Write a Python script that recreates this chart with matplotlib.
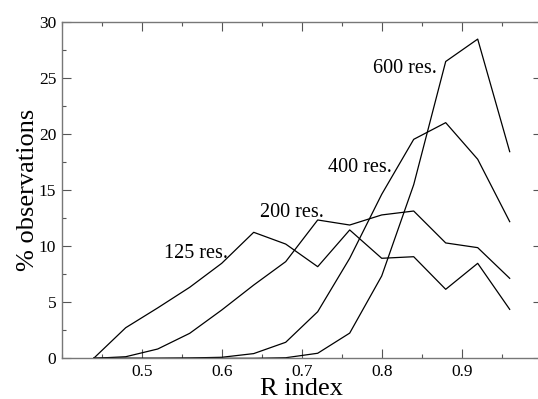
import matplotlib
matplotlib.use("Agg")
import matplotlib.pyplot as plt
from matplotlib.ticker import MultipleLocator

r_index = [0.44, 0.48, 0.52, 0.56, 0.60, 0.64, 0.68, 0.72, 0.76, 0.80, 0.84, 0.88, 0.92, 0.96]
res125 = [0.0, 2.73, 4.5, 6.34, 8.48, 11.25, 10.2, 8.18, 11.46, 8.93, 9.07, 6.16, 8.48, 4.37]
res200 = [0.0, 0.14, 0.83, 2.23, 4.31, 6.54, 8.63, 12.35, 11.9, 12.8, 13.15, 10.3, 9.88, 7.14]
res400 = [0.0, 0.0, 0.0, 0.03, 0.09, 0.42, 1.43, 4.16, 8.93, 14.64, 19.55, 21.04, 17.77, 12.2]
res600 = [0.0, 0.0, 0.0, 0.0, 0.0, 0.0, 0.05, 0.45, 2.25, 7.35, 15.5, 26.5, 28.5, 18.45]

series = [res125, res200, res400, res600]
labels = ["125 res.", "200 res.", "400 res.", "600 res."]
label_pos = [(0.608, 8.93, "right"), (0.648, 12.64, "left"), (0.8125, 16.66, "right"), (0.869, 25.45, "right")]

plt.rcParams['font.family'] = ['Liberation Serif', 'DejaVu Serif']
plt.rcParams['mathtext.fontset'] = 'stix'

fig = plt.figure(figsize=(5.38, 3.99), dpi=100)
W, H = 538.0, 399.0
left, right, top, bottom = 61.7, 541.7, 22.3, 358.3
ax = fig.add_axes([left / W, 1 - bottom / H, (right - left) / W, (bottom - top) / H])

for s in series:
    ax.plot(r_index, s, color='black', linewidth=0.9)

for (x, y, ha), lab in zip(label_pos, labels):
    ax.text(x, y, lab, ha=ha, va='baseline', fontsize=14.5)

ax.set_xlim(0.4, 1.0)
ax.set_ylim(0, 30)
ax.xaxis.set_major_locator(MultipleLocator(0.1))
ax.xaxis.set_minor_locator(MultipleLocator(0.05))
ax.yaxis.set_major_locator(MultipleLocator(5))
ax.yaxis.set_minor_locator(MultipleLocator(2.5))
ax.set_xticks([0.5, 0.6, 0.7, 0.8, 0.9])
ax.set_xticklabels(["0.5", "0.6", "0.7", "0.8", "0.9"])
ax.tick_params(which='both', direction='in', top=True, right=True, colors='#555555', labelcolor='black', labelsize=12.5)
ax.tick_params(which='major', length=6.5, width=0.8, pad=4)
ax.tick_params(which='minor', length=3.2, width=0.8)
for sp in ax.spines.values():
    sp.set_color('#777777')
    sp.set_linewidth(1.0)

ax.set_xlabel("R index", fontsize=19, labelpad=-1)
ax.set_ylabel("% observations", fontsize=19, labelpad=0)

fig.savefig("out.png", dpi=100)
